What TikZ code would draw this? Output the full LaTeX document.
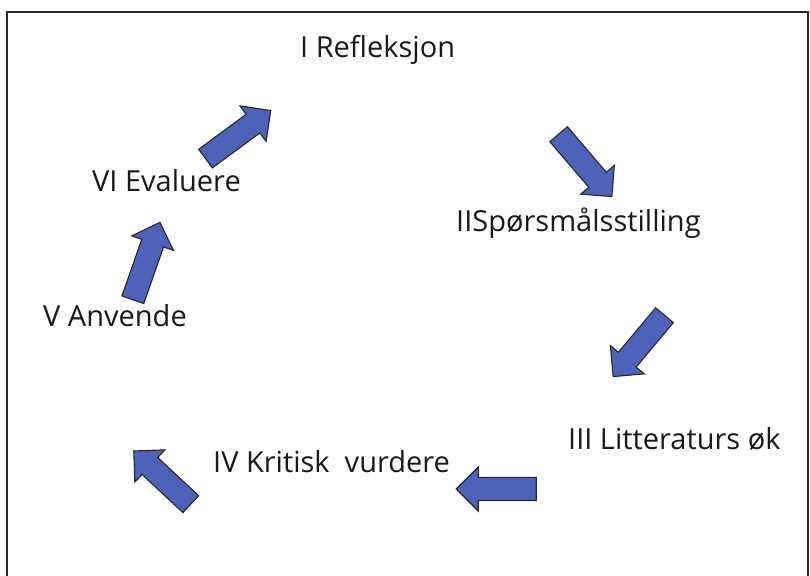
\documentclass[tikz,border=0pt]{standalone}
\usepackage{fontspec}
\setmainfont{Open Sans}
\usetikzlibrary{shapes.arrows}
\definecolor{arrowblue}{RGB}{78,98,186}
\definecolor{framegray}{RGB}{40,40,40}
\tikzset{
  blockarrow/.style={single arrow, draw=black!85, line width=1.1pt, fill=arrowblue,
    minimum height=80pt, inner xsep=0pt, inner ysep=11pt,
    single arrow head extend=10.5pt, single arrow tip angle=90, shape border uses incircle=false},
  label/.style={anchor=base west, inner sep=0pt, font=\fontsize{29}{32}\selectfont, text=black!90}
}
\begin{document}
\begin{tikzpicture}[x=1pt,y=1pt]
\useasboundingbox (0,0) rectangle (810,575);
\fill[white] (0,0) rectangle (810,575);
\draw[framegray, line width=1.6pt] (7,-5) -- (7,563) -- (808,563) -- (808,-5);
% labels (baseline positions)
\node[label] (t1) at (300,517) {I Refleksjon};
\node[label] (t2) at (456,343) {IISpørsmålsstilling};
\node[label] (t3) at (568,125) {III Litteraturs øk};
\node[label] (t4) at (213,102) {IV Kritisk\ \ vurdere};
\node[label] (t5) at (43,248) {V Anvende};
\node[label] (t6) at (92,383) {VI Evaluere};
% arrows
\node[blockarrow, minimum height=81pt, rotate=36.4] (a1) at (233.5,437) {};
\node[blockarrow, minimum height=82pt, rotate=-49.5] (a2) at (581.5,414) {};
\node[blockarrow, rotate=230.1] (a3) at (642.5,233.5) {};
\node[blockarrow, rotate=180] (a4) at (502,86) {};
\node[blockarrow, minimum height=78pt, rotate=137] (a5) at (166.5,93.5) {};
\node[blockarrow, minimum height=82pt, rotate=70.7] (a6) at (144.5,308.5) {};
\end{tikzpicture}
\end{document}
